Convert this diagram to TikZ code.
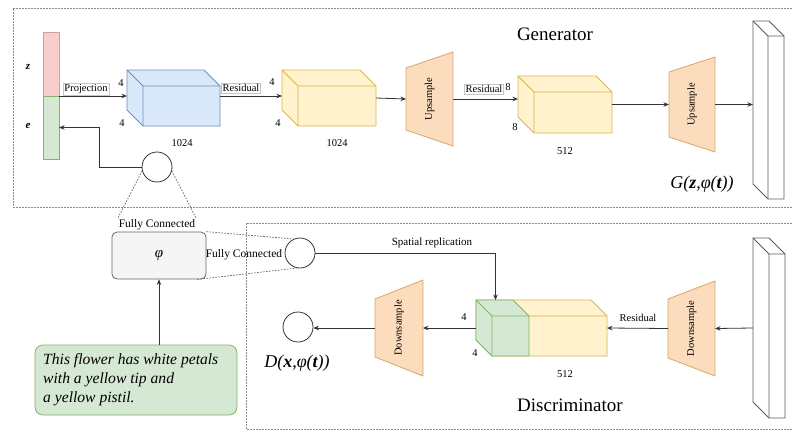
\documentclass[tikz,border=0pt]{standalone}
\usepackage{fontspec}
\setmainfont{Liberation Serif}
\usetikzlibrary{arrows.meta,calc}

\definecolor{linec}{HTML}{333333}
\definecolor{pinkf}{HTML}{F8CECC}
\definecolor{pinkd}{HTML}{C9A3A3}
\definecolor{greenf}{HTML}{D5E8D4}
\definecolor{greend}{HTML}{82B366}
\definecolor{bluef}{HTML}{DAE8FC}
\definecolor{blued}{HTML}{6C8EBF}
\definecolor{yellowf}{HTML}{FFF2CC}
\definecolor{yellowd}{HTML}{D6B656}
\definecolor{peachf}{HTML}{FBDCBD}
\definecolor{peachd}{HTML}{D6A866}
\definecolor{grayf}{HTML}{F5F5F5}
\definecolor{grayd}{HTML}{666666}
\definecolor{framec}{HTML}{8A8A8A}

% cube drawn inside the bounding box of node #1, depth #2, style #3
\newcommand\boxcube[3]{%
  \draw[#3] (#1.north west) -- ([xshift=-#2pt]#1.north east) -- ([yshift=-#2pt]#1.north east)
    -- (#1.south east) -- ([xshift=#2pt]#1.south west) -- ([yshift=#2pt]#1.south west) -- cycle;
  \draw[#3,fill=none] (#1.north west) -- ([xshift=#2pt,yshift=-#2pt]#1.north west)
    -- ([yshift=-#2pt]#1.north east)
    ([xshift=#2pt,yshift=-#2pt]#1.north west) -- ([xshift=#2pt]#1.south west);
}
% trapezoid block: narrow left side inset by #2 from top and bottom
\newcommand\trapblock[3]{%
  \draw[#3] ([yshift=-#2pt]#1.north west) -- (#1.north east) -- (#1.south east)
    -- ([yshift=#2pt]#1.south west) -- cycle;
}

\tikzset{
  bbox/.style={inner sep=0pt, outer sep=0pt, draw=none, fill=none},
  arr/.style={draw=linec, line width=0.8pt, -{Stealth[length=5.5pt,width=4.5pt]}},
  plain/.style={draw=linec, line width=0.8pt},
  frame/.style={draw=framec, line width=0.7pt, dash pattern=on 1.6pt off 1.4pt},
  fcline/.style={draw=grayd, line width=0.7pt, dash pattern=on 1.6pt off 1.4pt},
  small/.style={font=\fontsize{10.5}{12}\selectfont, inner sep=1pt},
  edgelab/.style={font=\fontsize{10.5}{12}\selectfont, inner sep=1.2pt, draw=gray!45, fill=white, line width=0.4pt},
  rotlab/.style={font=\fontsize{10.5}{12}\selectfont, rotate=90, inner sep=0pt},
  title/.style={font=\fontsize{19}{22}\selectfont, inner sep=0pt},
  circ/.style={circle, draw=linec, line width=0.8pt, minimum size=30pt, inner sep=0pt, fill=white},
  bluecube/.style={fill=bluef, draw=blued, line width=0.8pt},
  yellowcube/.style={fill=yellowf, draw=yellowd, line width=0.8pt},
  greencube/.style={fill=greenf, draw=greend, line width=0.8pt},
  whitecube/.style={fill=white, draw=grayd!90!black, line width=0.8pt},
  peach/.style={fill=peachf, draw=peachd, line width=0.8pt},
}

\begin{document}
\begin{tikzpicture}[x=1pt,y=-1pt]
\useasboundingbox (0,0) rectangle (792,431);

% dashed frames of the two networks
\draw[frame] (792,8) -- (13,8) -- (13,207) -- (792,207);
\draw[frame] (792,223) -- (246,223) -- (246,429) -- (792,429);

\node[title] (gent) at (555,34) {Generator};
\node[title] (dist) at (570,405) {Discriminator};

% ---------- generator ----------
\node[bbox, draw=pinkd, fill=pinkf, line width=0.7pt, minimum width=16, minimum height=64] (zbar) at (51,64) {};
\node[bbox, draw=greend, fill=greenf, line width=0.7pt, minimum width=16, minimum height=63] (ebar) at (51,127.5) {};
\node[small, font=\fontsize{11}{12}\selectfont\bfseries\itshape] (zl) at (28,67) {z};
\node[small, font=\fontsize{11}{12}\selectfont\bfseries\itshape] (el) at (28,126) {e};

\node[bbox, minimum width=93, minimum height=56] (c1) at (173.5,98) {};
\boxcube{c1}{16}{bluecube}
\node[bbox, minimum width=94, minimum height=56] (c2) at (329,98) {};
\boxcube{c2}{16}{yellowcube}
\node[bbox, minimum width=47, minimum height=94] (up1) at (429.5,99) {};
\trapblock{up1}{16}{peach}
\node[rotlab] (up1t) at (up1) {Upsample};
\node[bbox, minimum width=94, minimum height=57] (c3) at (565,104.5) {};
\boxcube{c3}{16}{yellowcube}
\node[bbox, minimum width=46, minimum height=95] (up2) at (692,104.5) {};
\trapblock{up2}{15}{peach}
\node[rotlab] (up2t) at (up2) {Upsample};
\node[bbox, minimum width=31, minimum height=178] (gslab) at (768.5,110) {};
\boxcube{gslab}{15}{whitecube}

\node[small] (c1a) at (121,83) {4};
\node[small] (c1b) at (122,123) {4};
\node[small] (c1s) at (182,143) {1024};
\node[small] (c2a) at (272,82) {4};
\node[small] (c2b) at (278,123) {4};
\node[small] (c2s) at (337,143) {1024};
\node[small] (c3a) at (508,87) {8};
\node[small] (c3b) at (515,127) {8};
\node[small] (c3s) at (565,151) {512};

\draw[arr] (ebar.north east) -- (ebar.north east -| c1.west);
\node[edgelab] (projl) at (86,89) {Projection};
\draw[arr] (c1.east |- ebar.north east) -- (ebar.north east -| c2.west);
\node[edgelab] (res1) at (241,88) {Residual};
\draw[arr] (c2.east) -- (up1.west);
\draw[arr] (up1.east) -- (up1.east -| c3.west);
\node[edgelab] (res2) at (484,89) {Residual};
\draw[arr] (c3.east) -- (up2.west);
\draw[arr] (up2.east) -- (up2.east -| gslab.west);

\node[font=\fontsize{18}{20}\selectfont\itshape, inner sep=0pt] (gout) at (702,184) {G(\textbf{z},φ(\textbf{t}))};

% ---------- text embedding ----------
\node[circ] (fc1) at (157,167) {};
\draw[arr] (fc1.west) -- ++(-42,0) |- (ebar.east);

\node[draw=grayd, fill=grayf, rounded corners=5pt, line width=0.8pt, minimum width=94, minimum height=47, inner sep=0pt,
      font=\fontsize{15}{16}\selectfont\itshape] (phi) at (159,255.5) {φ};
\node[font=\fontsize{11.5}{12}\selectfont, inner sep=1pt] (fcl1) at (157,225) {Fully Connected};
\draw[fcline] (fc1.195) -- (fcl1.north west);
\draw[fcline] (fc1.-15) -- (fcl1.north east);

\node[circ] (fc2) at (300,253) {};
\node[font=\fontsize{11.5}{12}\selectfont, inner sep=1pt] (fcl2) at (244,255) {Fully Connected};
\draw[fcline] (phi.north east) -- (fc2.115);
\draw[fcline] ([xshift=-9pt]phi.south east) -- (fc2.258);

% caption box and its text
\node[draw=greend, fill=greenf, rounded corners=8pt, line width=0.8pt, minimum width=202, minimum height=70,
      inner sep=0pt] (tb) at (136,380) {};
\node[anchor=west, align=left, inner sep=0pt, font=\fontsize{15.6}{19}\selectfont\itshape] (tbt) at (43,380)
      {This flower has white petals\\with a yellow tip and\\a yellow pistil.};
\draw[arr] (tb.north -| phi.south) -- (phi.south);

% ---------- discriminator ----------
\node[bbox, minimum width=32, minimum height=180] (dslab) at (769,328) {};
\boxcube{dslab}{16}{whitecube}
\node[bbox, minimum width=47, minimum height=95] (down2) at (691.5,328.5) {};
\trapblock{down2}{18}{peach}
\node[rotlab] (down2t) at (down2) {Downsample};
\node[bbox, minimum width=131, minimum height=56] (ycube) at (541.5,328) {};
\boxcube{ycube}{16}{yellowcube}
\node[bbox, minimum width=53, minimum height=56] (gcube) at (502.5,328) {};
\boxcube{gcube}{16}{greencube}
\node[bbox, minimum width=48, minimum height=96] (down1) at (399,328) {};
\trapblock{down1}{19}{peach}
\node[rotlab] (down1t) at (down1) {Downsample};
\node[circ] (dout) at (298,327) {};

\node[small] (ga) at (464,317) {4};
\node[small] (gb) at (475,353) {4};
\node[small] (ys) at (565,374) {512};

\draw[arr] (dslab.west) -- (down2.east);
\draw[arr] (down2.west) -- (ycube.east);
\node[small] (res3) at (638,318) {Residual};
\draw[arr] (ycube.west) -- (down1.east);
\draw[arr] (down1.west) -- (down1.west -| dout.east);
\draw[arr] (fc2.east) -| ([xshift=-7pt]gcube.north);
\node[font=\fontsize{11}{12}\selectfont, inner sep=1pt] (spl) at (432,243) {Spatial replication};

\node[font=\fontsize{18}{20}\selectfont\itshape, inner sep=0pt] (dlab) at (297,363) {D(\textbf{x},φ(\textbf{t}))};
\end{tikzpicture}
\end{document}
